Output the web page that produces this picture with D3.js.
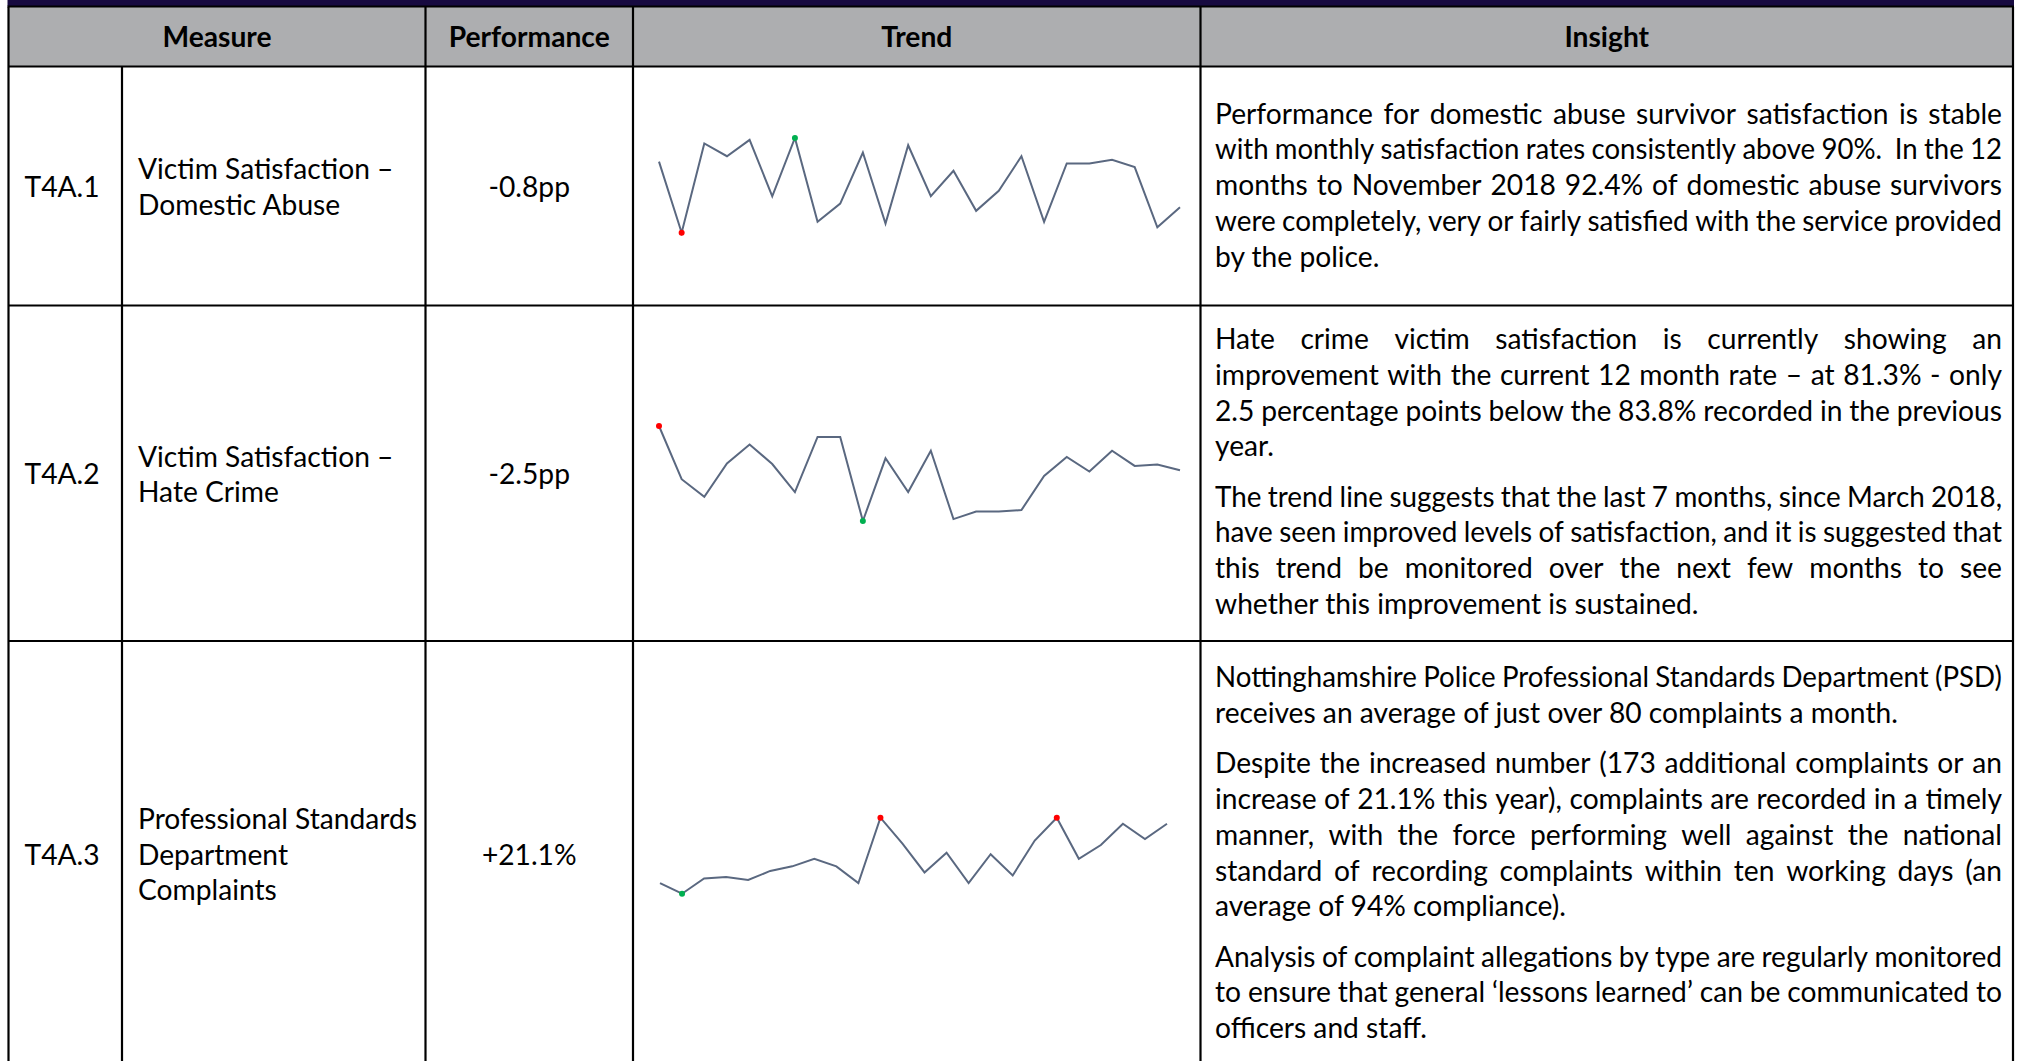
<!DOCTYPE html>
<html><head><meta charset="utf-8">
<script src="https://cdn.jsdelivr.net/npm/d3@7"></script>
<style>
html,body{margin:0;padding:0;background:#fff;}
svg{display:block;}
</style></head>
<body>
<svg id="chart" width="2022" height="1061"></svg>
<script>
// Column headings
const headers = ["Measure", "Performance", "Trend", "Insight"];

// Measure codes, names and headline performance
const measureCodes = ["T4A.1", "T4A.2", "T4A.3"];
const measureNames = [
  ["Victim Satisfaction –", "Domestic Abuse"],
  ["Victim Satisfaction –", "Hate Crime"],
  ["Professional Standards", "Department", "Complaints"]
];
const performance = ["-0.8pp", "-2.5pp", "+21.1%"];

// Monthly values behind each trend sparkline (24 months)
const domesticAbuseSatisfaction = [94.1, 90.2, 95.1, 94.4, 95.3, 92.2, 95.4, 90.8, 91.8, 94.6, 90.7, 95.0,
                                   92.2, 93.6, 91.4, 92.5, 94.4, 90.8, 94.0, 94.0, 94.2, 93.8, 90.5, 91.6];
const hateCrimeSatisfaction = [92.0, 80.8, 77.1, 84.1, 88.1, 84.0, 78.1, 89.7, 89.7, 72.0, 85.2, 78.1,
                               86.8, 72.4, 74.0, 74.0, 74.3, 81.5, 85.5, 82.4, 86.8, 83.6, 83.9, 82.7];
const psdComplaints = [62, 55, 65, 66, 64, 70, 73, 78, 73, 62, 105, 88,
                       69, 82, 62, 81, 67, 90, 105, 78, 87, 101, 91, 101];

// Insight commentary: paragraphs, each a list of printed lines
const insightDomesticAbuse = [[
  "Performance for domestic abuse survivor satisfaction is stable",
  "with monthly satisfaction rates consistently above 90%.  In the 12",
  "months to November 2018 92.4% of domestic abuse survivors",
  "were completely, very or fairly satisfied with the service provided",
  "by the police."
]];
const insightHateCrime = [[
  "Hate crime victim satisfaction is currently showing an",
  "improvement with the current 12 month rate – at 81.3% - only",
  "2.5 percentage points below the 83.8% recorded in the previous",
  "year."
], [
  "The trend line suggests that the last 7 months, since March 2018,",
  "have seen improved levels of satisfaction, and it is suggested that",
  "this trend be monitored over the next few months to see",
  "whether this improvement is sustained."
]];
const insightComplaints = [[
  "Nottinghamshire Police Professional Standards Department (PSD)",
  "receives an average of just over 80 complaints a month."
], [
  "Despite the increased number (173 additional complaints or an",
  "increase of 21.1% this year), complaints are recorded in a timely",
  "manner, with the force performing well against the national",
  "standard of recording complaints within ten working days (an",
  "average of 94% compliance)."
], [
  "Analysis of complaint allegations by type are regularly monitored",
  "to ensure that general ‘lessons learned’ can be communicated to",
  "officers and staff."
]];

// ---- layout ----
const FONT = "Lato, 'Open Sans', sans-serif";
const FS = 28.2;
const MIN_GAP = 0.23 * FS;   // narrowest word gap allowed in a justified line
const cols = [8.5, 122, 425.5, 633, 1200.5, 2013];
const headTop = 7, headBottom = 66.5;
const rowBounds = [66.5, 305.5, 641, 1066];
const insightX0 = 1215, insightX1 = 2002;
const lineStep = 35.8, paraGap = 14.5;

const rows = [
  {series: domesticAbuseSatisfaction, insight: insightDomesticAbuse, textTop: 123.5,
   spark: {x0: 659, x1: 1180, y0: 138, y1: 232.7}, highColor: "#00b050", lowColor: "#ff0000"},
  {series: hateCrimeSatisfaction, insight: insightHateCrime, textTop: 349,
   spark: {x0: 659, x1: 1180, y0: 426, y1: 521}, highColor: "#ff0000", lowColor: "#00b050"},
  {series: psdComplaints, insight: insightComplaints, textTop: 687,
   spark: {x0: 660, x1: 1167, y0: 817.7, y1: 893.7}, highColor: "#ff0000", lowColor: "#00b050"}
];

const svg = d3.select("#chart");

// dark band above the table
svg.append("rect").attr("x", 7.5).attr("y", 0).attr("width", 2006.5).attr("height", 6.5).attr("fill", "#170a40");
// header band
svg.append("rect").attr("x", cols[0]).attr("y", headTop).attr("width", cols[5] - cols[0])
  .attr("height", headBottom - headTop).attr("fill", "#adaeb0");

const headerSpans = [[cols[0], cols[2]], [cols[2], cols[3]], [cols[3], cols[4]], [cols[4], cols[5]]];
svg.append("g").selectAll("text").data(headers).join("text")
  .attr("x", (d, i) => (headerSpans[i][0] + headerSpans[i][1]) / 2)
  .attr("y", 46.5)
  .attr("text-anchor", "middle")
  .attr("font-family", FONT).attr("font-size", FS).attr("font-weight", 700)
  .attr("fill", "#000")
  .text(d => d);

// text measuring helper for justified lines
const meas = svg.append("text").attr("font-family", FONT).attr("font-size", FS)
  .attr("x", 0).attr("y", 0).attr("visibility", "hidden");
function textWidth(s) { if (!s) return 0; meas.text(s); return meas.node().getComputedTextLength(); }

const body = svg.append("g").attr("font-family", FONT).attr("font-size", FS).attr("fill", "#000");

rows.forEach((row, r) => {
  const top = rowBounds[r], bottom = rowBounds[r + 1];
  const base = (top + bottom) / 2 + 11;
  body.append("text").attr("x", 24.5).attr("y", base).text(measureCodes[r]);
  const names = measureNames[r];
  const nameStep = 35.5;
  names.forEach((nm, i) => {
    body.append("text").attr("x", 138)
      .attr("y", base + (i - (names.length - 1) / 2) * nameStep)
      .text(nm);
  });
  body.append("text").attr("x", (cols[2] + cols[3]) / 2).attr("y", base)
    .attr("text-anchor", "middle").text(performance[r]);

  // insight paragraphs, justified except for each paragraph's final line
  let y = row.textTop;
  row.insight.forEach((lines, pi) => {
    if (pi > 0) y += paraGap;
    lines.forEach((line, li) => {
      const t = body.append("text").attr("y", y);
      if (li === lines.length - 1) {
        t.attr("x", insightX0).text(line);
      } else {
        const words = line.split(" ");
        const widths = words.map(textWidth);
        const total = d3.sum(widths), n = words.length - 1, W = insightX1 - insightX0;
        let gap = (W - total) / n, k = 1;
        if (gap < MIN_GAP) { k = W / (total + MIN_GAP * n); gap = MIN_GAP; }
        t.attr("transform", `translate(${insightX0},0) scale(${k},1)`);
        let x = 0;
        words.forEach((w, i) => {
          if (w) t.append("tspan").attr("x", x).text(w);
          x += widths[i] + gap;
        });
      }
      y += lineStep;
    });
  });

  // sparkline with high / low point markers
  const s = row.spark;
  const xs = d3.scaleLinear().domain([0, row.series.length - 1]).range([s.x0, s.x1]);
  const ys = d3.scaleLinear().domain(d3.extent(row.series)).range([s.y1, s.y0]);
  svg.append("path").datum(row.series)
    .attr("fill", "none").attr("stroke", "#5a6880").attr("stroke-width", 2)
    .attr("stroke-linejoin", "miter")
    .attr("d", d3.line().x((d, i) => xs(i)).y(d => ys(d)));
  const hi = d3.max(row.series), lo = d3.min(row.series);
  const marks = row.series.map((v, i) => ({v, i})).filter(p => p.v === hi || p.v === lo);
  svg.append("g").selectAll("circle").data(marks).join("circle")
    .attr("cx", p => xs(p.i)).attr("cy", p => ys(p.v)).attr("r", 3)
    .attr("fill", p => p.v === hi ? row.highColor : row.lowColor);
});
meas.remove();

// grid lines
const grid = svg.append("g").attr("stroke", "#000").attr("stroke-width", 2.2);
grid.append("line").attr("x1", 7.5).attr("x2", 2014).attr("y1", 6.5).attr("y2", 6.5);
rowBounds.forEach(yb => grid.append("line").attr("x1", cols[0]).attr("x2", cols[5]).attr("y1", yb).attr("y2", yb));
cols.forEach((cx, i) => {
  grid.append("line").attr("x1", cx).attr("x2", cx)
    .attr("y1", i === 1 ? headBottom : headTop)
    .attr("y2", rowBounds[3]);
});
</script>
</body></html>
